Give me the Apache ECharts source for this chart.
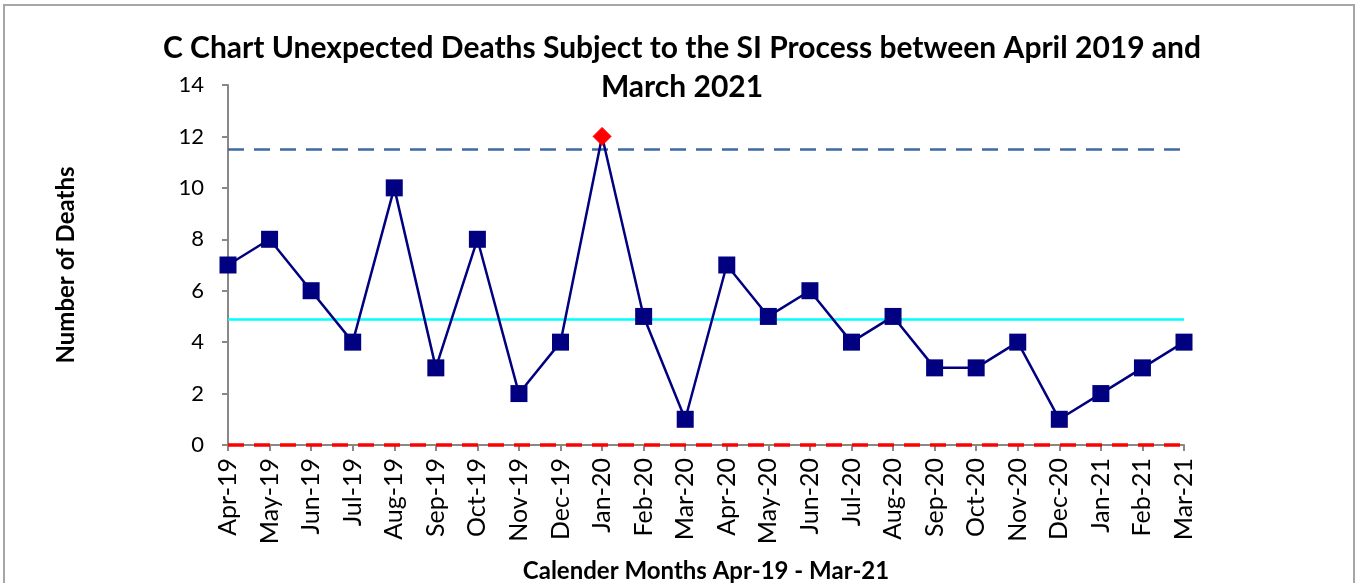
<title>c chart</title>
<script src="https://cdn.jsdelivr.net/npm/echarts@6/dist/echarts.min.js"></script>
<style>
  body{margin:0;background:#fff;}
  #frame{position:absolute;left:3px;top:4px;width:1348px;height:600px;border:2px solid #a6a6a6;}
  #chart{position:absolute;left:0;top:0;width:1360px;height:583px;}
</style>
<div id="frame"></div>
<div id="chart"></div>
<script>
  // 数据
  var months = ['Apr-19','May-19','Jun-19','Jul-19','Aug-19','Sep-19','Oct-19','Nov-19','Dec-19','Jan-20','Feb-20','Mar-20',
                'Apr-20','May-20','Jun-20','Jul-20','Aug-20','Sep-20','Oct-20','Nov-20','Dec-20','Jan-21','Feb-21','Mar-21'];
  var deaths = [7, 8, 6, 4, 10, 3, 8, 2, 4, 12, 5, 1, 7, 5, 6, 4, 5, 3, 3, 4, 1, 2, 3, 4];
  var centreLine = [4.875];
  var upperLimit = [11.5];
  var lowerLimit = [0];
  var yTicks = [0, 14, 2];

  var font = 'Lato, "Open Sans", sans-serif';
  var chart = echarts.init(document.getElementById('chart'));

  var points = deaths.map(function (v) {
    if (v > upperLimit[0]) {
      return {value: v, symbol: 'diamond', symbolSize: 18, itemStyle: {color: '#ff0000', borderColor: '#ff0000'}};
    }
    return v;
  });

  var option = {
    backgroundColor: 'transparent',
    animation: false,
    title: {
      text: 'C Chart Unexpected Deaths Subject to the SI Process between April 2019 and\nMarch 2021',
      left: 677, top: 24, textAlign: 'center',
      textStyle: {fontFamily: font, fontSize: 30, fontWeight: 'bold', color: '#000', lineHeight: 39}
    },
    grid: {left: 228, right: 176, top: 85, bottom: 138, outerBoundsMode: 'none'},
    xAxis: {
      type: 'category',
      data: months,
      boundaryGap: false,
      name: 'Calender Months Apr-19 - Mar-21',
      nameLocation: 'middle',
      nameGap: 114,
      nameTextStyle: {fontFamily: font, fontSize: 24, fontWeight: 'bold', color: '#000'},
      axisLine: {lineStyle: {color: '#888', width: 2}},
      axisTick: {show: true, length: 6, lineStyle: {color: '#888', width: 2}},
      axisLabel: {rotate: 90, interval: 0, fontFamily: font, fontSize: 25, color: '#000', margin: 13}
    },
    yAxis: {
      type: 'value',
      min: yTicks[0], max: yTicks[1], interval: yTicks[2],
      name: 'Number of Deaths',
      nameLocation: 'middle',
      nameGap: 150,
      nameTextStyle: {fontFamily: font, fontSize: 24, fontWeight: 'bold', color: '#000'},
      splitLine: {show: false},
      axisLine: {show: true, lineStyle: {color: '#888', width: 2}},
      axisTick: {show: true, length: 6, lineStyle: {color: '#888', width: 2}},
      axisLabel: {fontFamily: font, fontSize: 22, color: '#000', margin: 24}
    },
    series: [
      {
        name: 'limits',
        type: 'line',
        data: [],
        silent: true,
        markLine: {
          symbol: 'none',
          silent: true,
          label: {show: false},
          data: [
            {yAxis: centreLine[0], lineStyle: {color: '#00ffff', width: 2.5, type: 'solid'}},
            {yAxis: upperLimit[0], lineStyle: {color: '#3d6aa3', width: 2.5, type: [16, 10]}},
            {yAxis: lowerLimit[0], lineStyle: {color: '#ff0000', width: 3.5, type: [16, 10]}}
          ]
        }
      },
      {
        name: 'Deaths',
        type: 'line',
        data: points,
        symbol: 'rect',
        symbolSize: 17,
        lineStyle: {color: '#000080', width: 2.5},
        itemStyle: {color: '#000080'},
        z: 5
      }
    ]
  };
  chart.setOption(option);
</script>
